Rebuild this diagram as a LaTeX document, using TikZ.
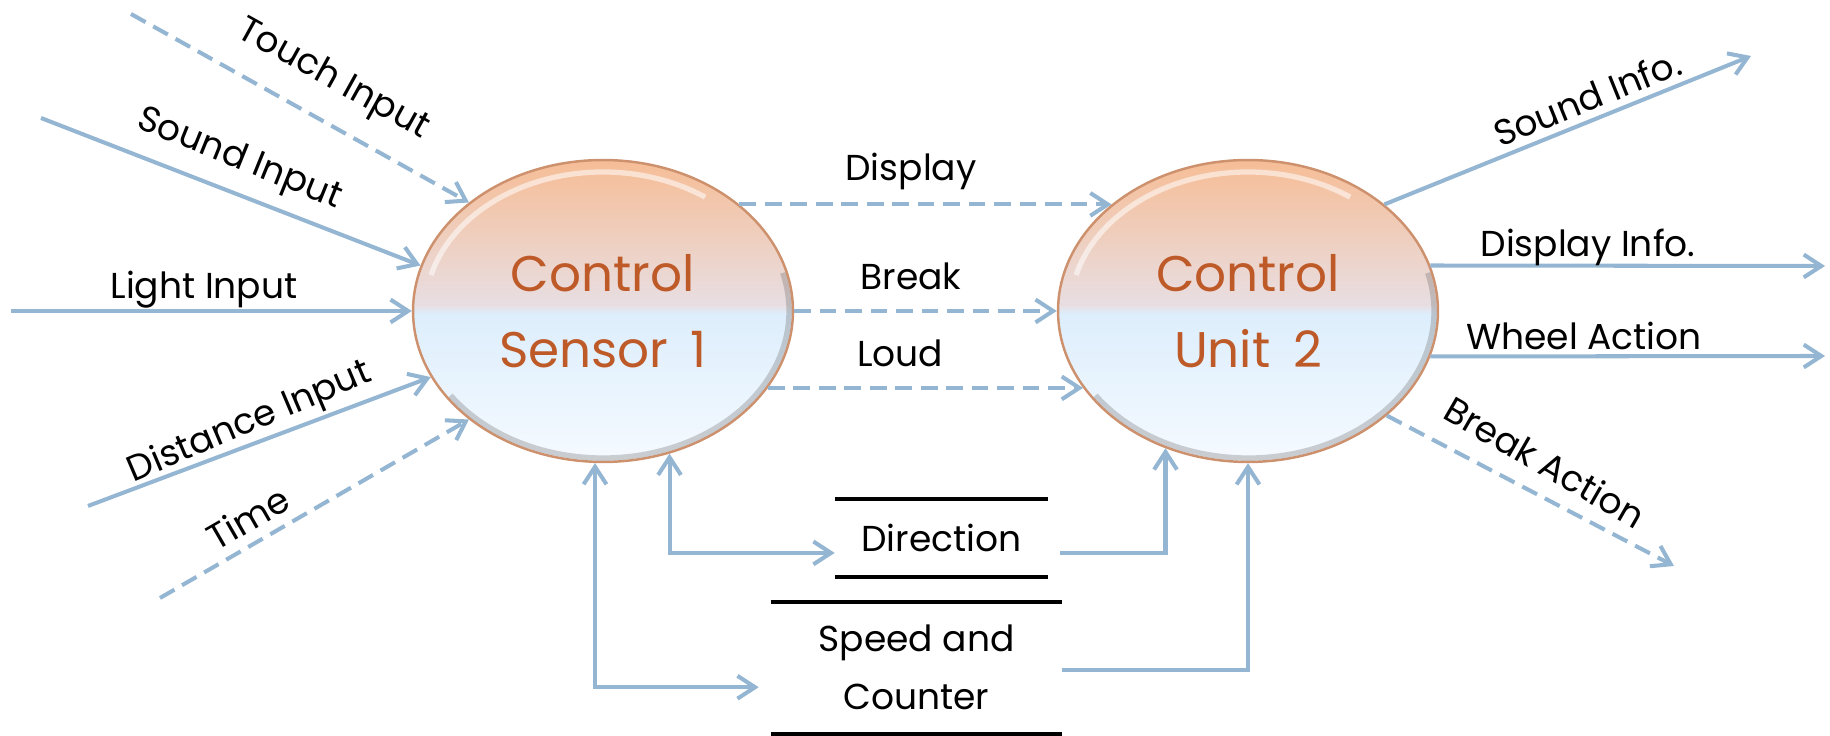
\documentclass[tikz,border=0pt]{standalone}
\usepackage{fontspec}
\setmainfont{Poppins}
\usetikzlibrary{arrows.meta,shapes.geometric,calc}

\definecolor{flowblue}{RGB}{148,182,210}
\definecolor{ctrlbrown}{RGB}{190,89,40}
\definecolor{orbtop}{RGB}{246,189,150}
\definecolor{orbmid}{RGB}{232,222,226}
\definecolor{orbblue}{RGB}{221,238,252}
\definecolor{orbbot}{RGB}{245,250,255}
\definecolor{orbrim}{RGB}{205,145,110}

\pgfdeclareverticalshading{orbshade}{100bp}{color(0bp)=(orbbot); color(25bp)=(orbbot); color(49.5bp)=(orbblue); color(51bp)=(orbmid); color(75bp)=(orbtop); color(100bp)=(orbtop)}

\begin{document}
\begin{tikzpicture}[x=0.02cm, y=0.02cm,
  >={Straight Barb[length=10pt,width=13pt]},
  flow/.style={draw=flowblue, line width=2.3pt},
  hint/.style={flow, dash pattern=on 9.5pt off 5pt},
  lbl/.style={font=\fontsize{20.5}{24}\selectfont, inner sep=0pt},
  rule/.style={line width=2.2pt},
  orb/.style={ellipse, minimum width=7.6cm, minimum height=6.04cm, inner sep=0pt,
    draw=orbrim, line width=1.4pt, shading=orbshade, text=ctrlbrown, align=center,
    font=\fontsize{28.5}{43}\selectfont}]
\useasboundingbox (0,0) rectangle (1830,736);

% Control bubbles
\node[orb] (sensor) at (603,425) {Control\\Sensor\hspace{0.45em}1};
\node[orb] (unit) at (1248,425) {Control\\Unit\hspace{0.45em}2};
\foreach \n in {sensor,unit}{
  \draw[white, line width=3pt, opacity=.55] ($(\n.center)+(165:178 and 139)$)
    arc[start angle=165, end angle=55, x radius=178, y radius=139];
  \draw[black!60, line width=3pt, opacity=.3] ($(\n.center)+(215:186 and 147)$)
    arc[start angle=215, end angle=375, x radius=186, y radius=147];
}

% Data stores
\node[lbl, minimum width=4.26cm, minimum height=1.56cm] (dir) at (941.5,198) {Direction};
\draw[rule] (dir.north west) -- (dir.north east) (dir.south west) -- (dir.south east);
\node[lbl, align=center, minimum width=5.82cm, minimum height=2.63cm,
  font=\fontsize{20.5}{33}\selectfont] (speed) at (916.5,68.25) {Speed and\\Counter};
\draw[rule] (speed.north west) -- (speed.north east) (speed.south west) -- (speed.south east);

% Inputs
\coordinate (touchS) at (131,722);
\coordinate (soundS) at (41,618);
\coordinate (lightS) at (11,425);
\coordinate (distS) at (88,230);
\coordinate (timeS) at (160,138);
\draw[hint, ->] (touchS) -- (sensor.141);
\draw[flow, ->] (soundS) -- (sensor.166);
\draw[flow, ->] (lightS) -- (sensor.180);
\draw[flow, ->] (distS) -- (sensor.201);
\draw[hint, ->] (timeS) -- (sensor.219);
\node[lbl, rotate=-29] (touchL) at (333,656) {Touch Input};
\node[lbl, rotate=-22] (soundL) at (239,576) {Sound Input};
\node[lbl] (lightL) at (204,446) {Light Input};
\node[lbl, rotate=23] (distL) at (250,313) {Distance Input};
\node[lbl, rotate=30] (timeL) at (248,218) {Time};

% Sensor to unit
\draw[hint, ->] (sensor.38) -- (unit.142);
\draw[hint, ->] (sensor.0) -- (unit.180);
\draw[hint, ->] (sensor.335) -- (unit.205);
\node[lbl] (dispL) at (911,565) {Display};
\node[lbl] (breakL) at (911,460) {Break};
\node[lbl] (loudL) at (900,383) {Loud};

% Outputs
\coordinate (soundO) at (1751,680);
\coordinate (dispO) at (1825,470);
\coordinate (wheelO) at (1825,380);
\coordinate (brakeO) at (1674,170);
\draw[flow, ->] (unit.38) -- (soundO);
\draw[flow, ->] (unit.14) -- (dispO);
\draw[flow, ->] (unit.-14) -- (wheelO);
\draw[hint, ->] (unit.-37) -- (brakeO);
\node[lbl, rotate=22] (soundInfoL) at (1587,638) {Sound Info.};
\node[lbl] (dispInfoL) at (1588,489) {Display Info.};
\node[lbl] (wheelL) at (1584,400) {Wheel Action};
\node[lbl, rotate=-30] (brakeActL) at (1545,274) {Break Action};

% Store links
\draw[flow, <->] (sensor.-65) |- ([yshift=-8.5pt]dir.west);
\draw[flow, <->] (sensor.-93) |- ([shift={(-6.8pt,-11.1pt)}]speed.west);
\draw[flow, ->] ([shift={(6.8pt,-8.5pt)}]dir.east) -| (unit.239);
\draw[flow, ->] ([yshift=-1.4pt]speed.east) -| (unit.south);

\end{tikzpicture}
\end{document}
